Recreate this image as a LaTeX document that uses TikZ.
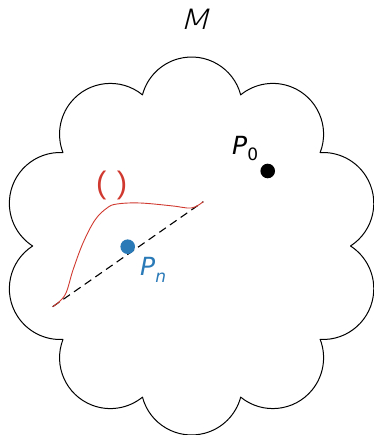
\documentclass[tikz,border=0pt]{standalone}
\usepackage{fontspec}
\setmainfont{DejaVu Sans}
\newfontfamily\thinfont[FakeSlant=0.2]{DejaVu Sans ExtraLight}
\newfontfamily\parenfont{Liberation Sans}
\usetikzlibrary{positioning,calc}
\definecolor{ptblue}{HTML}{2A7AB8}
\definecolor{pathred}{HTML}{D0392F}
\newcommand\lsub[2]{\raisebox{-#1}{\fontsize{17}{17}\selectfont #2}}

\begin{document}
\begin{tikzpicture}[
  x=1pt, y=1pt,
  every node/.style={inner sep=0pt},
  outline/.style={line width=1pt, line join=round},
  dot/.style={circle, minimum size=14.6pt},
  lbl/.style={font=\fontsize{25}{25}\selectfont},
  chord/.style={dash pattern=on 8pt off 5pt, line width=1.1pt},
  curve/.style={pathred, line width=0.9pt}
]
\useasboundingbox (0,0) rectangle (373,435);

% ===== Manifold outline: ten puffs =====
\coordinate (cc) at (191.5,189);
\draw[outline] ($(cc)+(0:159)$)
  \foreach \i in {0,...,9}{
    arc[start angle={36*\i+18-75.2}, end angle={36*\i+18+75.2}, radius=50.8]
  } -- cycle;
\node[font=\thinfont\fontsize{28}{28}\selectfont, anchor=base] (mlabel) at (194.5,405)
  {\scalebox{1.3}[1]{M}};

% ===== Start point =====
\node[dot, fill=black] (p0) at (267.7,264) {};
\node[lbl, anchor=base west] (p0label) at (232,280) {\itshape P\upshape\lsub{6pt}{0}};

% ===== Path and chord =====
\coordinate (start) at (52.7,128.3);
\coordinate (end) at (203.3,233.3);
\draw[chord] (start) -- (end);
\draw[curve] plot[smooth, tension=0.6] coordinates {
  (start) (65,140) (73,165) (83,192) (95,215) (107,227) (117,231)
  (140,232) (173,229) (187,227) (195,228) (end)};
\node[pathred, font=\parenfont\fontsize{31}{31}\selectfont] (plabel) at (111.7,249.5) {(\,\,)};

% ----- current point -----
\node[dot, fill=ptblue] (pn) at (127.7,188.3) {};
\node[lbl, ptblue, anchor=base west] (pnlabel) at (140,159) {\itshape P\lsub{7pt}{n}};
\end{tikzpicture}
\end{document}
